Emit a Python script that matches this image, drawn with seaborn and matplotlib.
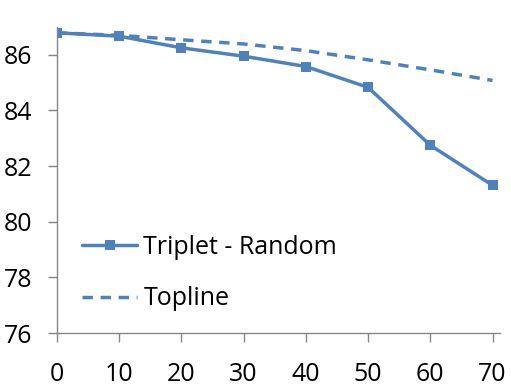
import matplotlib
matplotlib.use("Agg")
import matplotlib.pyplot as plt
import seaborn as sns
import pandas as pd

# 데이터
x_vals = [0, 10, 20, 30, 40, 50, 60, 70]
triplet_random = [86.79, 86.67, 86.25, 85.95, 85.58, 84.83, 82.75, 81.31]
topline = [86.79, 86.70, 86.54, 86.39, 86.15, 85.82, 85.46, 85.08]
y_ticks = [76, 78, 80, 82, 84, 86]

df = pd.DataFrame({"x": x_vals, "Triplet - Random": triplet_random, "Topline": topline})

sns.set_style("white")
plt.rcParams['font.family'] = ['Open Sans', 'DejaVu Sans']
plt.rcParams['text.color'] = 'black'
plt.rcParams['xtick.labelcolor'] = 'black'
plt.rcParams['ytick.labelcolor'] = 'black'

color = "#4F81BD"
fig = plt.figure(figsize=(5.11, 3.91), dpi=100)
ax = fig.add_axes([0.1115, 0.148, 0.867, 0.783])

sns.lineplot(data=df, x="x", y="Triplet - Random", ax=ax, color=color, lw=2.5,
             marker="s", markersize=7, markeredgewidth=0, label="Triplet - Random")
sns.lineplot(data=df, x="x", y="Topline", ax=ax, color=color, lw=2.5,
             linestyle=(0, (3, 2.2)), label="Topline")

ax.set_xlim(0, 71.2)
ax.set_ylim(76, 87)
ax.set_xticks(x_vals)
ax.set_yticks(y_ticks)
ax.set_xlabel("")
ax.set_ylabel("")

for s in ["top", "right"]:
    ax.spines[s].set_visible(False)
for s in ["left", "bottom"]:
    ax.spines[s].set_color("#868686")
    ax.spines[s].set_linewidth(1)
ax.tick_params(axis="both", which="major", direction="out", length=6.5, width=1,
               color="#868686", labelcolor="black", labelsize=18, left=True, bottom=True)
ax.tick_params(axis="y", pad=11)
ax.tick_params(axis="x", pad=14)

leg = ax.legend(loc="lower left", bbox_to_anchor=(0.057, 0.071), frameon=False,
                borderpad=0, borderaxespad=0,
                fontsize=18, handlelength=2.2, handletextpad=0.25, labelspacing=1.05)
for t in leg.get_texts():
    t.set_color("black")

fig.savefig("out.png", dpi=100)
